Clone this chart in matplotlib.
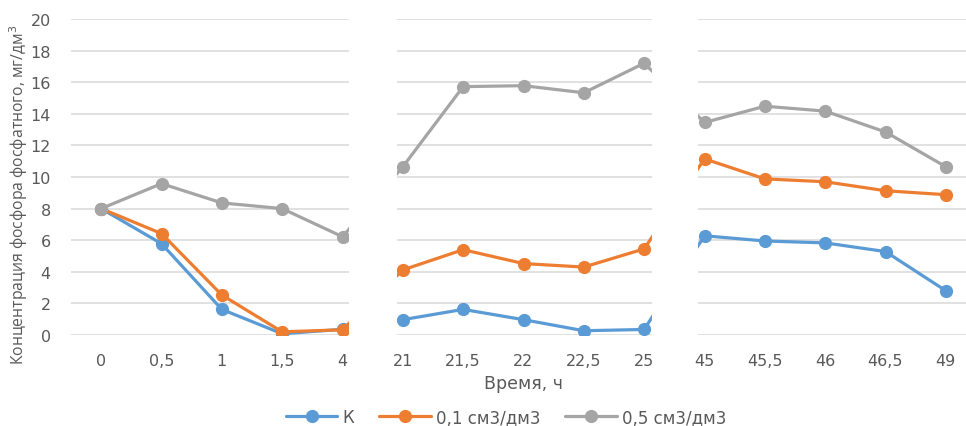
import matplotlib
matplotlib.use("Agg")
import matplotlib.pyplot as plt

# categories on the time axis (hours)
hours = ["0", "0,5", "1", "1,5", "4",
         "21", "21,5", "22", "22,5", "25",
         "45", "45,5", "46", "46,5", "49"]

k_vals   = [8.0, 5.78, 1.62, 0.08, 0.36, 0.97, 1.62, 0.97, 0.27, 0.35,
            6.28, 5.95, 5.83, 5.28, 2.8]
c01_vals = [8.0, 6.42, 2.53, 0.2, 0.33, 4.12, 5.4, 4.52, 4.3, 5.45,
            11.15, 9.88, 9.7, 9.13, 8.88]
c05_vals = [8.0, 9.58, 8.36, 8.0, 6.22, 10.65, 15.72, 15.78, 15.33, 17.2,
            13.45, 14.48, 14.17, 12.85, 10.65]

series_names = ["К", "0,1 см3/дм3", "0,5 см3/дм3"]
colors = ["#5B9BD5", "#ED7D31", "#A5A5A5"]

TXT = "#595959"
GRID = "#D9D9D9"
plt.rcParams["font.family"] = ["DejaVu Sans"]

fig = plt.figure(figsize=(9.66, 4.27), dpi=100, facecolor="white")
ax = fig.add_axes([71/966, 1 - 336/427, (976 - 71)/966, 316/427])

x = list(range(len(hours)))
for vals, name, c in zip([k_vals, c01_vals, c05_vals], series_names, colors):
    ax.plot(x, vals, color=c, lw=2.3, marker="o", ms=8.5, label=name,
            zorder=3, solid_capstyle="round")

# white breaks between the time groups (Excel-style cut axis)
for a, b in [(4.11, 4.9), (9.13, 9.89)]:
    ax.axvspan(a, b, color="white", zorder=4, lw=0)

ax.set_xlim(-0.5, len(hours) - 0.5)
ax.set_ylim(0, 20)
ax.set_yticks(range(0, 21, 2))
ax.set_xticks(x)
ax.set_xticklabels(hours)
ax.yaxis.grid(True, color=GRID, lw=1.1, zorder=0)
ax.set_axisbelow(True)
for s in ax.spines.values():
    s.set_visible(False)
ax.tick_params(length=0, colors=TXT, labelsize=11.5)
ax.tick_params(axis="y", pad=14.5)
ax.tick_params(axis="x", pad=13)

ax.set_xlabel("Время, ч", color=TXT, fontsize=12.5, labelpad=4)
ax.set_ylabel("Концентрация фосфора фосфатного, мг/дм$^3$", color=TXT,
              fontsize=11.3, family="Open Sans")
ax.yaxis.set_label_coords(-0.045, 0.446)

leg = fig.legend(loc="center", bbox_to_anchor=(506/966, 1 - 418/427), ncol=3,
                 frameon=False, fontsize=12, handlelength=3.1,
                 columnspacing=1.5, handletextpad=0.3)
for t in leg.get_texts():
    t.set_color(TXT)

fig.savefig("out.png", dpi=100, facecolor="white")
